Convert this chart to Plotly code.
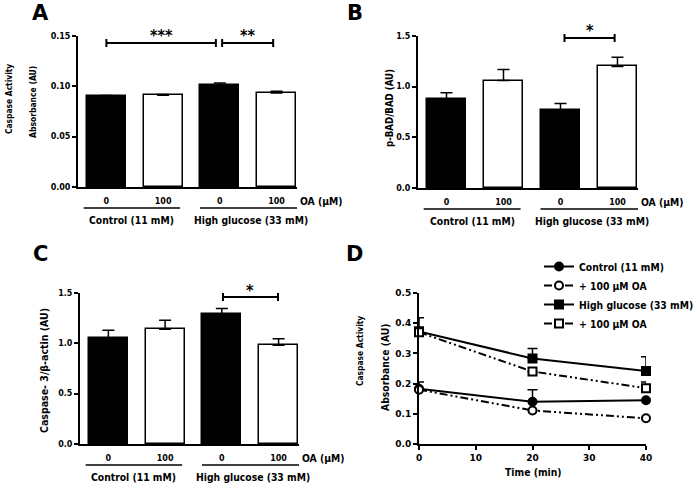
import plotly.graph_objects as go

W, H = 697, 488

# ---------------- data ----------------
oa_labels = ["0", "100", "0", "100"]
group_labels = ["Control (11 mM)", "High glucose (33 mM)"]
bar_colors = ["black", "white", "black", "white"]

a_vals = [0.0905, 0.0912, 0.1015, 0.0935]
a_err = [0.0004, 0.0008, 0.0018, 0.0015]

b_vals = [0.88, 1.06, 0.77, 1.20]
b_err = [0.06, 0.11, 0.065, 0.09]

c_vals = [1.05, 1.14, 1.29, 0.98]
c_err = [0.08, 0.09, 0.055, 0.065]

time_min = [0, 20, 40]
d_names = ["Control (11 mM)", "+ 100 \u03bcM OA", "High glucose (33 mM)", "+ 100 \u03bcM OA"]
d_ctrl = [0.183, 0.140, 0.145]
d_ctrl_err = [0.022, 0.040, 0.0]
d_ctrl_oa = [0.180, 0.111, 0.085]
d_ctrl_oa_err = [0.0, 0.0, 0.0]
d_hg = [0.373, 0.283, 0.242]
d_hg_err = [0.045, 0.033, 0.047]
d_hg_oa = [0.370, 0.240, 0.185]
d_hg_oa_err = [0.0, 0.0, 0.020]

COND = "DejaVu Sans Condensed, DejaVu Sans"
TICKF = dict(family="DejaVu Sans", size=8, weight="bold", color="black")
FS = 10.3


def px(x):
    return x / W


def py(y):
    return 1 - y / H


fig = go.Figure()

# panel geometry (pixels): x0, x1, ytop, ybottom
panels = {
    "A": dict(xa="x", ya="y", x0=78, x1=297, yt=36, yb=187, vals=a_vals, err=a_err,
              yr=[0, 0.15], yt_vals=[0, 0.05, 0.10, 0.15], fmt=".2f"),
    "B": dict(xa="x2", ya="y2", x0=418, x1=638, yt=36, yb=188, vals=b_vals, err=b_err,
              yr=[0, 1.5], yt_vals=[0, 0.5, 1.0, 1.5], fmt=".1f"),
    "C": dict(xa="x3", ya="y3", x0=80, x1=299, yt=293, yb=444, vals=c_vals, err=c_err,
              yr=[0, 1.5], yt_vals=[0, 0.5, 1.0, 1.5], fmt=".1f"),
}

axis_common = dict(showline=True, linewidth=2, linecolor="black", showgrid=False,
                   zeroline=False, mirror=False, automargin=False, fixedrange=True)

layout_axes = {}
annotations = []
shapes = []


def ytitle(text, xpix, ypix, size):
    annotations.append(dict(text=text, xref="paper", yref="paper", x=px(xpix), y=py(ypix),
                            textangle=-90, showarrow=False, font=dict(size=size),
                            xanchor="center", yanchor="middle"))


for i, (key, p) in enumerate(panels.items()):
    n = "" if i == 0 else str(i + 1)
    fig.add_trace(go.Bar(
        x=[0, 1, 2, 3], y=p["vals"], width=0.69,
        marker=dict(color=bar_colors, line=dict(color="black", width=1.5)),
        error_y=dict(type="data", array=p["err"], arrayminus=[0, 0, 0, 0], symmetric=False,
                     color="black", thickness=1.5, width=6),
        xaxis=p["xa"], yaxis=p["ya"], showlegend=False, cliponaxis=False,
    ))
    layout_axes["xaxis" + n] = dict(
        axis_common, domain=[px(p["x0"]), px(p["x1"])], range=[-0.5, 3.36],
        anchor=p["ya"], tickvals=[0, 1, 2, 3], ticktext=oa_labels, ticks="",
        tickfont=TICKF, ticklabelstandoff=5)
    layout_axes["yaxis" + n] = dict(
        axis_common, domain=[py(p["yb"]), py(p["yt"])], range=p["yr"], anchor=p["xa"],
        tickvals=p["yt_vals"], tickformat=p["fmt"], ticks="outside", ticklen=4,
        tickwidth=2, tickcolor="black", tickfont=TICKF)
    # group lines + labels
    ybar = p["yb"] + 21
    for g, (gx0, gx1) in enumerate([(-0.4, 1.3), (1.65, 3.45)]):
        shapes.append(dict(type="line", xref=p["xa"], yref="paper", x0=gx0, x1=gx1,
                           y0=py(ybar), y1=py(ybar), line=dict(color="black", width=1.5)))
        annotations.append(dict(text=group_labels[g], xref=p["xa"], yref="paper",
                                x=(gx0 + gx1) / 2, y=py(ybar + 12), showarrow=False,
                                font=dict(size=FS), xanchor="center", yanchor="middle"))
    annotations.append(dict(text="OA (\u03bcM)", xref="paper", yref="paper",
                            x=px(p["x1"] + 1), y=py(p["yb"] + 14), showarrow=False,
                            font=dict(size=FS), xanchor="left", yanchor="middle"))

ytitle("Caspase Activity", 9, 99, 8.4)
ytitle("Absorbance (AU)", 33, 102, 8.5)
ytitle("p-BAD/BAD (AU)", 389, 108, 9.6)
ytitle("Caspase- 3/\u03b2-actin (AU)", 44, 371, 10.5)


def bracket(xa, xs, xe, ypix, label, star_y):
    shapes.append(dict(type="line", xref=xa, yref="paper", x0=xs, x1=xe, y0=py(ypix), y1=py(ypix),
                       line=dict(color="black", width=2)))
    for xx in (xs, xe):
        shapes.append(dict(type="line", xref=xa, yref="paper", x0=xx, x1=xx,
                           y0=py(ypix - 4), y1=py(ypix + 4), line=dict(color="black", width=2)))
    annotations.append(dict(text=label, xref=xa, yref="paper", x=(xs + xe) / 2, y=py(star_y),
                            showarrow=False, font=dict(size=16), xanchor="center",
                            yanchor="middle"))


bracket("x", 0.0, 1.93, 43, "***", 36)
bracket("x", 2.04, 2.94, 43, "**", 36)
bracket("x2", 2.07, 2.95, 38, "*", 31)
bracket("x3", 2.02, 2.99, 297, "*", 290)

# ---------------- panel D ----------------
DASH = "8px,3px,2px,3px,2px,3px"
d_specs = [
    (d_ctrl, d_ctrl_err, "circle", "black", "solid"),
    (d_ctrl_oa, d_ctrl_oa_err, "circle", "white", DASH),
    (d_hg, d_hg_err, "square", "black", "solid"),
    (d_hg_oa, d_hg_oa_err, "square", "white", DASH),
]
for name, (vals, err, sym, fill, dash) in zip(d_names, d_specs):
    fig.add_trace(go.Scatter(
        x=time_min, y=vals, name=name, mode="lines+markers",
        line=dict(color="black", width=2, dash=dash),
        marker=dict(symbol=sym, size=8, color=fill, line=dict(color="black", width=2)),
        error_y=dict(type="data", array=err, arrayminus=[0, 0, 0], symmetric=False,
                     color="black", thickness=1.5, width=5),
        xaxis="x4", yaxis="y4", cliponaxis=False,
    ))

TICKD = dict(TICKF, size=9)
layout_axes["xaxis4"] = dict(
    axis_common, domain=[px(419), px(646)], range=[0, 40], anchor="y4",
    tickvals=[0, 10, 20, 30, 40], ticks="outside", ticklen=4, tickwidth=2, tickcolor="black",
    tickfont=TICKD)
layout_axes["yaxis4"] = dict(
    axis_common, domain=[py(444), py(293)], range=[0, 0.5], anchor="x4",
    tickvals=[0, 0.1, 0.2, 0.3, 0.4, 0.5], tickformat=".1f", ticks="outside", ticklen=4,
    tickwidth=2, tickcolor="black", tickfont=TICKD)
ytitle("Absorbance (AU)", 385, 367, 10.3)
ytitle("Caspase Activity", 360, 351, 8.4)
annotations.append(dict(text="Time (min)", xref="paper", yref="paper", x=px(533), y=py(472),
                        showarrow=False, font=dict(size=FS), xanchor="center",
                        yanchor="middle"))

# panel letters
for letter, (lx, ly) in {"A": (40, 13), "B": (355, 13), "C": (40, 254), "D": (355, 254)}.items():
    annotations.append(dict(text=letter, xref="paper", yref="paper", x=px(lx), y=py(ly),
                            showarrow=False, font=dict(family="DejaVu Sans", size=21),
                            xanchor="center", yanchor="middle"))

fig.update_layout(
    width=W, height=H, margin=dict(l=0, r=0, t=0, b=0, autoexpand=False),
    paper_bgcolor="white", plot_bgcolor="white",
    font=dict(family=COND, size=FS, color="black", weight="bold"),
    bargap=0, showlegend=True,
    legend=dict(x=px(539), y=py(252), xanchor="left", yanchor="top",
                bgcolor="rgba(0,0,0,0)", font=dict(size=FS), itemwidth=30,
                tracegroupgap=0),
    annotations=annotations, shapes=shapes,
    **layout_axes,
)

fig.write_html("out.html", config={"displayModeBar": False},
               post_script="document.body.style.margin='0px';")
